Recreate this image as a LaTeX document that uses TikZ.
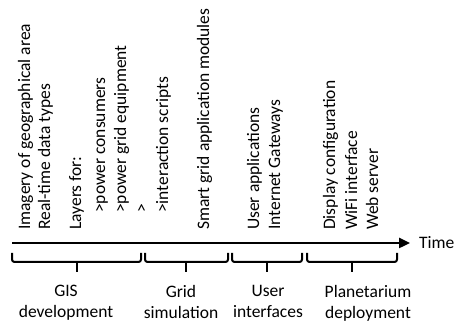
\documentclass[tikz,border=0pt]{standalone}
\usepackage{fontspec}
\setmainfont{Carlito}
\usetikzlibrary{arrows.meta}

\tikzset{
  item/.style = {rotate=90, anchor=base west, inner sep=0pt,
                 font=\fontsize{17.5}{21}\selectfont},
  phase/.style = {anchor=north, inner sep=0pt, align=center,
                  font=\fontsize{17.5}{21}\selectfont},
  bracket/.style = {line width=2pt, rounded corners=2.5pt},
  axis/.style = {line width=2.4pt, -{Triangle[length=11pt,width=10pt]}}
}

\begin{document}
\begin{tikzpicture}[x=1pt, y=1pt]
		\useasboundingbox (0,0) rectangle (463,323);

		%time axis
		\coordinate (t0) at (12,80);
		\coordinate (t1) at (410,80);
		\node [anchor=west, inner sep=0pt, font=\fontsize{17.5}{21}\selectfont] (time) at (419,80) {Time};
		\draw [axis] (t0) -- (t1);

		%GIS development
		\node [item] (gis1) at (30,93) {Imagery of geographical area};
		\node [item] (gis2) at (50,93) {Real-time data types};
		\node [item] (gis3) at (81,93) {Layers for:};
		\node [item] (gis4) at (105,110) {>power consumers};
		\node [item] (gis5) at (126,110) {>power grid equipment};
		\node [item] (gis6) at (147,110) {>};
		%Grid simulation
		\node [item] (sim1) at (168,110) {>interaction scripts};
		\node [item] (sim2) at (209,93) {Smart grid application modules};
		%User interfaces
		\node [item] (ui1) at (259,93) {User applications};
		\node [item] (ui2) at (280,93) {Internet Gateways};
		%Planetarium deployment
		\node [item] (dep1) at (335,93) {Display configuration};
		\node [item] (dep2) at (357,93) {WiFi interface};
		\node [item] (dep3) at (378,93) {Web server};

		%brackets
		\draw [bracket] (12,70) -- (12,61) -- (141,61) -- (141,70);
		\draw [bracket] (145,70) -- (145,61) -- (228,61) -- (228,70);
		\draw [bracket] (232,70) -- (232,61) -- (302,61) -- (302,70);
		\draw [bracket] (307,70) -- (307,61) -- (397,61) -- (397,70);
		\draw [line width=2.4pt] (77,61) -- (77,51);
		\draw [line width=2.4pt] (186,61) -- (186,51);
		\draw [line width=2.4pt] (267,61) -- (267,51);
		\draw [line width=2.4pt] (352,61) -- (352,51);

		%phases
		\node [phase] (gis) at (66,38) {GIS\\development};
		\node [phase] (sim) at (181,38) {Grid\\simulation};
		\node [phase] (ui) at (268,38) {User\\interfaces};
		\node [phase] (dep) at (368,38) {Planetarium\\deployment};
\end{tikzpicture}
\end{document}
